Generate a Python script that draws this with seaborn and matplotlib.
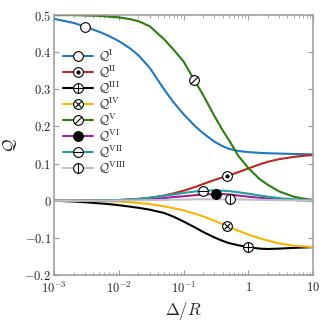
import numpy as np
import pandas as pd
import seaborn as sns
import matplotlib
matplotlib.use("Agg")
import matplotlib.pyplot as plt
from matplotlib.path import Path
from matplotlib.lines import Line2D
from matplotlib.ticker import FixedLocator, FixedFormatter, LogLocator, NullFormatter

# x grid (Delta / R) and curves
x = [0.001, 0.002, 0.003, 0.005, 0.007, 0.01, 0.015, 0.02, 0.03, 0.05, 0.07, 0.1,
     0.15, 0.2, 0.3, 0.4, 0.5, 0.7, 1, 1.5, 2, 3, 5, 7, 10]

q1 = [0.490, 0.479, 0.469, 0.455, 0.444, 0.430, 0.410, 0.392, 0.358, 0.300, 0.265, 0.233,
      0.201, 0.182, 0.159, 0.147, 0.140, 0.134, 0.131, 0.129, 0.128, 0.127, 0.126, 0.1255, 0.125]
q2 = [0.0, 0.0002, 0.0005, 0.001, 0.0015, 0.002, 0.004, 0.005, 0.008, 0.014, 0.020, 0.027,
      0.037, 0.045, 0.056, 0.063, 0.068, 0.077, 0.087, 0.098, 0.105, 0.112, 0.118, 0.121, 0.123]
q3 = [0.0, -0.002, -0.004, -0.007, -0.009, -0.012, -0.016, -0.019, -0.024, -0.033, -0.043, -0.056,
      -0.072, -0.084, -0.099, -0.108, -0.114, -0.120, -0.125, -0.129, -0.130, -0.129, -0.127, -0.126, -0.125]
q4 = [0.0, -0.0003, -0.0005, -0.001, -0.0015, -0.002, -0.004, -0.006, -0.009, -0.015, -0.020, -0.026,
      -0.035, -0.042, -0.054, -0.063, -0.070, -0.081, -0.091, -0.101, -0.107, -0.115, -0.121, -0.123, -0.125]
q5 = [0.500, 0.500, 0.499, 0.498, 0.496, 0.494, 0.489, 0.484, 0.470, 0.435, 0.407, 0.375,
      0.322, 0.285, 0.228, 0.190, 0.164, 0.121, 0.088, 0.058, 0.043, 0.025, 0.011, 0.006, 0.002]
q6 = [0.0, 0.0001, 0.0002, 0.0004, 0.0006, 0.001, 0.002, 0.003, 0.004, 0.007, 0.010, 0.012,
      0.015, 0.017, 0.018, 0.018, 0.017, 0.014, 0.011, 0.008, 0.006, 0.004, 0.002, 0.001, 0.0005]
q7 = [0.0, 0.0002, 0.0004, 0.0008, 0.0012, 0.002, 0.003, 0.005, 0.008, 0.013, 0.017, 0.021,
      0.025, 0.027, 0.028, 0.027, 0.026, 0.023, 0.019, 0.014, 0.011, 0.007, 0.004, 0.002, 0.001]
q8 = [0.0, 0.0001, 0.0001, 0.0002, 0.0003, 0.0005, 0.0008, 0.001, 0.0015, 0.002, 0.003, 0.003,
      0.004, 0.004, 0.004, 0.004, 0.004, 0.0035, 0.003, 0.0025, 0.002, 0.0015, 0.001, 0.0007, 0.0005]

names = ["I", "II", "III", "IV", "V", "VI", "VII", "VIII"]
colors = ["#1f78c0", "#c0281c", "#000000", "#f7b500", "#2a7f10", "#a020a0", "#20a0a0", "#c0c0c0"]

# one marker per curve
mark_x = [0.003, 0.47, 1.0, 0.47, 0.145, 0.32, 0.2, 0.52]
mark_y = [0.469, 0.067, -0.125, -0.068, 0.326, 0.018, 0.027, 0.004]

xticks = [1e-3, 1e-2, 1e-1, 1, 10]
xticklabels = ["$10^{-3}$", "$10^{-2}$", "$10^{-1}$", "$1$", "$10$"]
yticks = [-0.2, -0.1, 0, 0.1, 0.2, 0.3, 0.4, 0.5]
yticklabels = ["$-0.2$", "$-0.1$", "$0$", "$0.1$", "$0.2$", "$0.3$", "$0.4$", "$0.5$"]

sns.set_style("ticks")
plt.rcParams["mathtext.fontset"] = "cm"
plt.rcParams["font.family"] = ["DejaVu Serif"]

df = pd.DataFrame({
    "x": x * 8,
    "y": q1 + q2 + q3 + q4 + q5 + q6 + q7 + q8,
    "series": [n for n in names for _ in x],
})

fig = plt.figure(figsize=(3.32, 3.22), dpi=100)
ax = fig.add_axes([0.163, 0.146, 0.780, 0.807])

sns.lineplot(data=df, x="x", y="y", hue="series", palette=dict(zip(names, colors)),
             linewidth=1.5, legend=False, ax=ax, sort=False)

slash = Path([(-1, -1), (1, 1)], [Path.MOVETO, Path.LINETO])
# inner symbol for each circle marker: (marker, size)
inner = [None, ("o", 2.2), ("+", 7), ("x", 5), (slash, 5), None, ("_", 7), ("|", 7)]

ms = 7
handles = []
for i, n in enumerate(names):
    face = "black" if n == "VI" else "white"
    ax.plot([mark_x[i]], [mark_y[i]], "o", ms=ms, mfc=face, mec="black", mew=0.8, zorder=5)
    h_base = Line2D([], [], color=colors[i], lw=1.5, marker="o", ms=ms, mfc=face, mec="black", mew=0.8)
    if inner[i] is not None:
        m, s = inner[i]
        ax.plot([mark_x[i]], [mark_y[i]], ls="none", marker=m, ms=s, color="black",
                mew=0.8, zorder=6)
        h_in = Line2D([], [], ls="none", marker=m, ms=s, color="black", mew=0.8)
        handles.append((h_base, h_in))
    else:
        handles.append(h_base)

labels = [r"$\mathcal{Q}^{\rm " + n + "}$" for n in names]
ax.legend(handles, labels, loc="upper left", bbox_to_anchor=(0.0, 0.91), frameon=False,
          fontsize=9, handlelength=2.4, handletextpad=0.4, labelspacing=0.02, borderaxespad=0.3)

ax.set_xscale("log")
ax.set_xlim(1e-3, 10)
ax.set_ylim(-0.2, 0.5)
ax.xaxis.set_major_locator(FixedLocator(xticks))
ax.xaxis.set_major_formatter(FixedFormatter(xticklabels))
ax.xaxis.set_minor_locator(LogLocator(base=10, subs=np.arange(2, 10)))
ax.xaxis.set_minor_formatter(NullFormatter())
ax.yaxis.set_major_locator(FixedLocator(yticks))
ax.yaxis.set_major_formatter(FixedFormatter(yticklabels))

gray = "#9a9a9a"
for s in ax.spines.values():
    s.set_color(gray)
    s.set_linewidth(1.1)
ax.tick_params(which="both", direction="in", top=True, right=True, color=gray, labelsize=9)
ax.tick_params(axis="x", pad=4)
ax.tick_params(axis="y", pad=2)
ax.tick_params(which="major", length=3.5, width=0.8)
ax.tick_params(which="minor", length=2, width=0.6)

ax.set_xlabel(r"$\Delta/R$", fontsize=12, labelpad=3)
ax.set_ylabel(r"$\mathcal{Q}$", fontsize=12, labelpad=4)

fig.savefig("out.png", dpi=100)
